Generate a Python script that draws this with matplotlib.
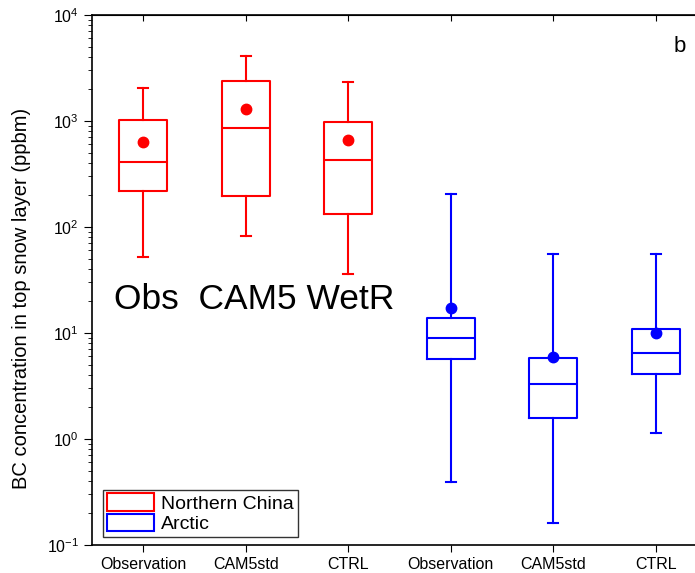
import matplotlib
matplotlib.use('Agg')
import matplotlib.pyplot as plt
from matplotlib.patches import Patch
import numpy as np

plt.rcParams['font.family'] = ['Liberation Sans', 'DejaVu Sans']

# Dados (ppbm)
labels = ['Observation', 'CAM5std', 'CTRL', 'Observation', 'CAM5std', 'CTRL']
grupos = ['Northern China'] * 3 + ['Arctic'] * 3
wlo = [52, 82, 36, 0.39, 0.16, 1.14]
q1 = [220, 195, 132, 5.7, 1.58, 4.1]
med = [410, 850, 430, 9.0, 3.3, 6.5]
q3 = [1030, 2400, 970, 13.8, 5.8, 10.8]
whi = [2050, 4100, 2350, 205, 55, 55]
media = [630, 1300, 660, 17.2, 5.9, 10.0]
cores = ['red', 'red', 'red', 'blue', 'blue', 'blue']

fig = plt.figure(figsize=(6.95, 5.73), dpi=100)
ax = fig.add_axes([0.1324, 0.0489, 0.885, 0.925])

pos = np.arange(1, 7)
for i in range(6):
    st = [{'whislo': wlo[i], 'q1': q1[i], 'med': med[i], 'q3': q3[i],
           'whishi': whi[i], 'mean': media[i], 'fliers': []}]
    c = cores[i]
    ax.bxp(st, positions=[pos[i]], widths=0.47, showmeans=True,
           boxprops=dict(color=c, linewidth=1.5),
           medianprops=dict(color=c, linewidth=1.5),
           whiskerprops=dict(color=c, linewidth=1.5),
           capprops=dict(color=c, linewidth=1.5),
           capwidths=0.1,
           meanprops=dict(marker='o', markerfacecolor=c, markeredgecolor=c, markersize=7.5))

ax.set_yscale('log')
ax.set_ylim(0.1, 1e4)
ax.set_xlim(0.5, 6.5)
ax.set_xticks(pos)
ax.set_xticklabels(labels, fontsize=11.5)
ax.set_ylabel('BC concentration in top snow layer (ppbm)', fontsize=14.5)
ax.yaxis.set_label_coords(-0.1, 0.465)
ax.tick_params(axis='y', which='major', direction='out', length=6, labelsize=11.5)
ax.tick_params(axis='y', which='minor', direction='out', length=3)
ax.tick_params(axis='x', which='major', direction='out', length=5)
for s in ax.spines.values():
    s.set_linewidth(1.2)

# ticks no eixo superior, para dentro
topo = ax.secondary_xaxis('top')
topo.set_xticks(pos)
topo.set_xticklabels([])
topo.tick_params(direction='in', length=4)

ax.text(0.035, 0.445, 'Obs  CAM5 WetR', transform=ax.transAxes, fontsize=25.5)
fig.text(0.978, 0.91, 'b', fontsize=16, ha='center')

handles = [Patch(facecolor='none', edgecolor='red', linewidth=1.5, label='Northern China'),
           Patch(facecolor='none', edgecolor='blue', linewidth=1.5, label='Arctic')]
ax.legend(handles=handles, loc='lower left', bbox_to_anchor=(0.018, 0.015),
          fontsize=14, frameon=True, fancybox=False, edgecolor='black',
          handlelength=2.4, handleheight=1.0, labelspacing=0.05,
          borderpad=0.2, handletextpad=0.4, borderaxespad=0)

fig.savefig('out.png', dpi=100)
